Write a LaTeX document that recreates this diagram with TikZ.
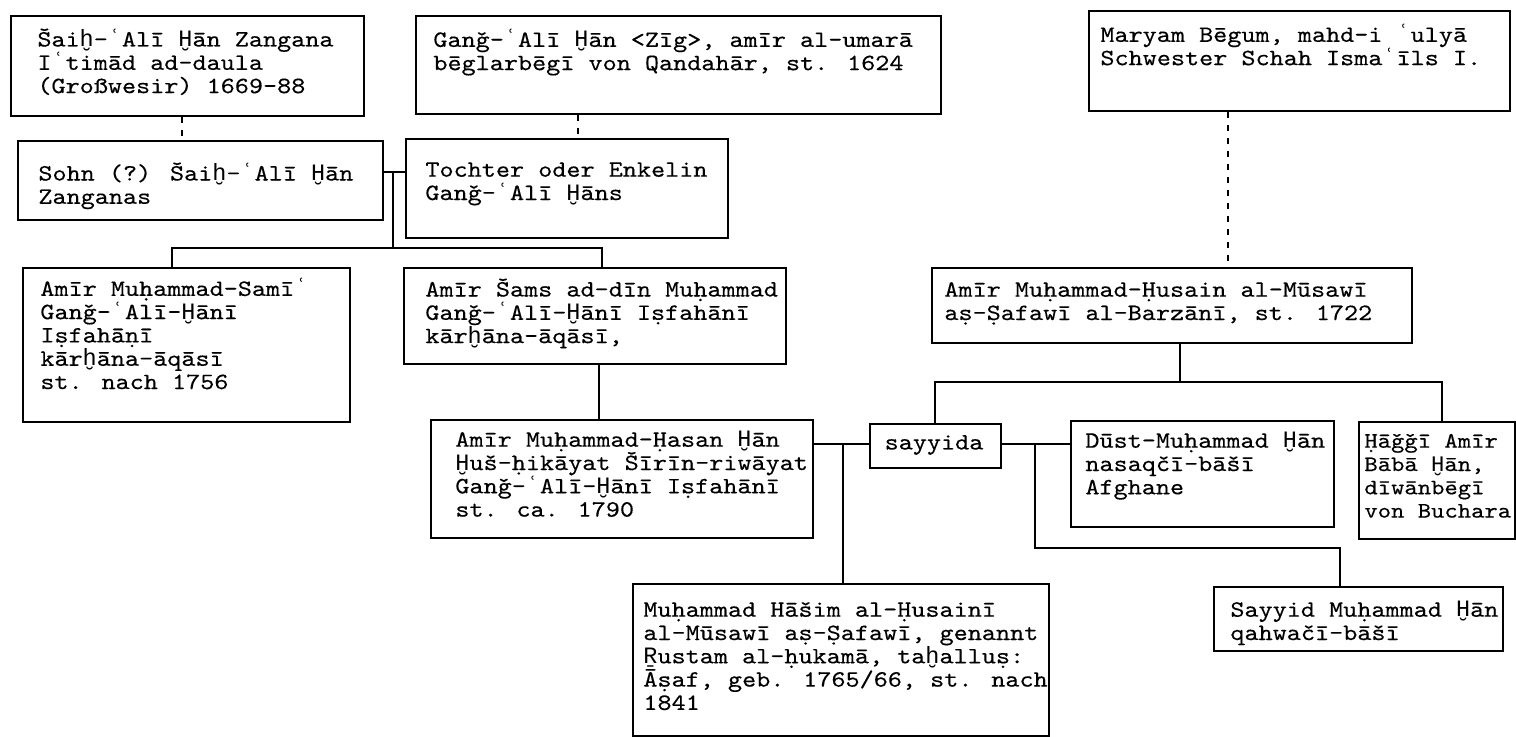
\documentclass[tikz,border=0pt]{standalone}
\usepackage{fontspec}
\newfontfamily\tw{lmmono10-regular.otf}[FakeStretch=1.15,FakeBold=0.3]
\newfontfamily\fbf{Liberation Mono}[Scale=1.005]
\newcommand\twf{\tw\fontsize{11.68pt}{11.65pt}\selectfont}
\newcommand\twg{\tw\fontsize{11.05pt}{11.65pt}\selectfont}
\lineskiplimit=-20pt
\XeTeXinterchartokenstate=1
\newXeTeXintercharclass\FBc
\XeTeXcharclass"02BF=\FBc
\XeTeXcharclass"1E2A=\FBc
\XeTeXcharclass"1E2B=\FBc
\XeTeXcharclass"1E5E=\FBc
\XeTeXinterchartoks 0 \FBc={\begingroup\fbf}
\XeTeXinterchartoks 4095 \FBc={\begingroup\fbf}
\XeTeXinterchartoks \FBc 0={\endgroup}
\XeTeXinterchartoks \FBc 4095={\endgroup}
\begin{document}
\begin{tikzpicture}[x=0.5pt,y=-0.5pt,
  box/.style={draw, line width=1.1pt, inner sep=0pt, anchor=north west},
  txt/.style={anchor=north west, inner sep=0pt, align=left, font=\twf},
  link/.style={line width=1pt},
  dotlink/.style={line width=0.9pt, dash pattern=on 3pt off 3.5pt}]
\newcommand\pbx[5]{\node[box, minimum width={(#4-#2)*0.5pt}, minimum height={(#5-#3)*0.5pt}] (#1) at (#2,#3) {};}
\fill[white] (0,0) rectangle (1516,737);
\useasboundingbox (0,0) rectangle (1516,737);
% boxes
\pbx{A}{10}{15}{363}{115}
\pbx{B}{415}{15}{940}{113}
\pbx{C}{1088}{10}{1509}{110}
\pbx{D}{17}{140}{382}{219}
\pbx{E}{405}{138}{727}{237}
\pbx{F}{22}{267}{349}{421}
\pbx{G}{403}{267}{785}{363}
\pbx{H}{430}{419}{812}{537}
\pbx{I}{869}{423}{1000}{467}
\pbx{J}{931}{267}{1411}{342}
\pbx{K}{1070}{420}{1333}{526}
\pbx{L}{1358}{421}{1514}{538}
\pbx{M}{1213}{586}{1502}{650}
\pbx{N}{632}{583}{1048}{735}
% texts
\node[txt] (tA) at (37,28) {\strut Šaiḫ-ʿAlī Ḫān Zangana\\Iʿtimād ad-daula\\(Großwesir) 1669-88};
\node[txt] (tB) at (433,29) {\strut Ganǧ-ʿAlī Ḫān <Zīg>, amīr al-umarā\\bēglarbēgī von Qandahār, st. 1624};
\node[txt] (tC) at (1100,24) {\strut Maryam Bēgum, mahd-i ʿulyā\\Schwester Schah Ismaʿīls I.};
\node[txt] (tD) at (38,162) {\strut Sohn (?) Šaiḫ-ʿAlī Ḫān\\Zanganas};
\node[txt] (tE) at (425,160) {\strut Tochter oder Enkelin\\Ganǧ-ʿAlī Ḫāns};
\node[txt] (tF) at (40,278) {\strut Amīr Muḥammad-Samīʿ\\Ganǧ-ʿAlī-Ḫānī\\Iṣfahāṇī\\kārḫāna-āqāsī\\st. nach 1756};
\node[txt] (tG) at (425,278) {\strut Amīr Šams ad-dīn Muḥammad\\Ganǧ-ʿAlī-Ḫānī Iṣfahānī\\kārḫāna-āqāsī,};
\node[txt] (tH) at (455,430) {\strut Amīr Muḥammad-Ḥasan Ḫān\\Ḫuš-ḥikāyat Šīrīn-riwāyat\\Ganǧ-ʿAlī-Ḫānī Iṣfahānī\\st. ca. 1790};
\node[txt, anchor=center] (tI) at (934,445) {sayyida};
\node[txt] (tJ) at (944,280) {\strut Amīr Muḥammad-Ḥusain al-Mūsawī\\aṣ-Ṣafawī al-Barzānī, st. 1722};
\node[txt] (tK) at (1085,431) {\strut Dūst-Muḥammad Ḫān\\nasaqčī-bāšī\\Afghane};
\node[txt, font=\twg] (tL) at (1364,431) {\strut Ḥāǧǧī Amīr\\Bābā Ḫān,\\dīwānbēgī\\von Buchara};
\node[txt] (tM) at (1230,600) {\strut Sayyid Muḥammad Ḫān\\qahwačī-bāšī};
\node[txt] (tN) at (643,600) {\strut Muḥammad Hāšim al-Ḥusainī\\al-Mūsawī aṣ-Ṣafawī, genannt\\Ṟustam al-ḥukamā, taḫalluṣ:\\Āṣaf, geb. 1765/66, st. nach\\1841};
% connectors
\draw[dotlink] (182,0 |- A.south) -- (182,0 |- D.north);
\draw[dotlink] (578,0 |- B.south) -- (578,0 |- E.north);
\draw[dotlink] (1228,0 |- C.south) -- (1228,0 |- J.north);
\coordinate (m1) at (393,172);
\coordinate (m2) at (393,248);
\draw[link] (D.east |- m1) -- (E.west |- m1);
\draw[link] (m1) -- (m2);
\draw[link] (172,0 |- F.north) -- (172,248) -- (602,248) -- (602,0 |- G.north);
\draw[link] (599,0 |- G.south) -- (599,0 |- H.north);
\coordinate (m3) at (843,444);
\draw[link] (H.east |- m3) -- (I.west |- m3);
\draw[link] (m3) -- (843,0 |- N.north);
\coordinate (m4) at (1035,444);
\draw[link] (I.east |- m4) -- (K.west |- m4);
\draw[link] (m4) -- (1035,548) -- (1340,548) -- (1340,0 |- M.north);
\coordinate (m5) at (1180,382);
\draw[link] (1180,0 |- J.south) -- (m5);
\draw[link] (935,0 |- I.north) -- (935,382) -- (1442,382) -- (1442,0 |- L.north);
\end{tikzpicture}
\end{document}
